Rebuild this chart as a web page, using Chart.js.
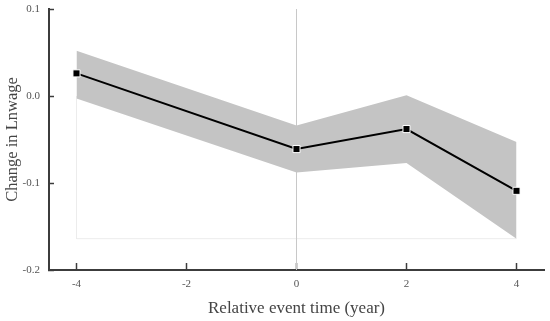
<!DOCTYPE html>
<html>
<head>
<meta charset="utf-8">
<script src="https://cdn.jsdelivr.net/npm/chart.js@4"></script>
<style>
  html, body { margin: 0; padding: 0; background: #fff; }
  #wrap { width: 550px; height: 321px; position: relative; }
</style>
</head>
<body>
<div id="wrap"><canvas id="eventChart"></canvas></div>
<script>
// event-study estimates
const years = [-4, 0, 2, 4];
const estimate = [0.026, -0.061, -0.038, -0.109];
const ciUpper = [0.052, -0.034, 0.001, -0.053];
const ciLower = [-0.003, -0.088, -0.077, -0.164];

const xTicks = [-4, -2, 0, 2, 4];
const yTicks = [-0.2, -0.1, 0.0, 0.1];

// faint frame left in the original figure, and the event line at 0
const frameX = [-4, -4, 4];
const frameY = [0, -0.164, -0.164];
const refX = [0, 0];
const refY = [-0.2, 0.1];

const pts = (xs, ys) => xs.map((x, i) => ({ x: x, y: ys[i] }));

const serif = 'Liberation Serif, Times New Roman, serif';
const axisColor = '#3c3c3c';

new Chart(document.getElementById('eventChart'), {
  type: 'line',
  data: {
    datasets: [
      {
        label: 'Estimate',
        data: pts(years, estimate),
        borderColor: '#000',
        borderWidth: 2,
        pointStyle: 'rect',
        pointRadius: 5,
        pointBackgroundColor: '#000',
        pointBorderColor: '#fff',
        pointBorderWidth: 1,
        fill: false,
        order: 0,
      },
      {
        label: 'Upper',
        data: pts(years, ciUpper),
        borderWidth: 0,
        borderColor: 'rgba(0,0,0,0)',
        pointRadius: 0,
        fill: false,
        order: 1,
      },
      {
        label: 'Lower',
        data: pts(years, ciLower),
        borderWidth: 0,
        borderColor: 'rgba(0,0,0,0)',
        backgroundColor: '#c4c4c4',
        pointRadius: 0,
        fill: '-1',
        order: 2,
      },
      {
        label: 'Event',
        data: pts(refX, refY),
        borderColor: '#c8c8c8',
        borderWidth: 1,
        pointRadius: 0,
        fill: false,
        order: 3,
      },
      {
        label: 'Frame',
        data: pts(frameX, frameY),
        borderColor: '#ececec',
        borderWidth: 1,
        pointRadius: 0,
        fill: false,
        order: 4,
      },
    ]
  },
  options: {
    responsive: true,
    maintainAspectRatio: false,
    animation: false,
    layout: { padding: { top: 0, right: 5, left: 0, bottom: 0 } },
    plugins: {
      legend: { display: false },
      tooltip: { enabled: false },
    },
    scales: {
      x: {
        type: 'linear',
        min: -4.5,
        max: 4.5,
        afterBuildTicks: (scale) => { scale.ticks = xTicks.map(v => ({ value: v })); },
        afterFit: (scale) => { scale.height = 51; },
        grid: { drawOnChartArea: false, drawTicks: true, tickLength: -7, color: axisColor, tickWidth: 1.5 },
        border: { color: axisColor, width: 2 },
        ticks: {
          padding: 15,
          color: '#555',
          font: { family: serif, size: 11 },
          callback: (v) => String(v),
        },
        title: {
          display: true,
          text: 'Relative event time (year)',
          color: '#444',
          font: { family: serif, size: 17 },
          padding: { top: 0, bottom: 2 },
        }
      },
      y: {
        type: 'linear',
        min: -0.2,
        max: 0.1,
        afterBuildTicks: (scale) => { scale.ticks = yTicks.map(v => ({ value: v })); },
        afterFit: (scale) => {
          scale.width = 49;
          // the inward ticks need a big label padding; keep it out of the plot margins
          scale.paddingTop = 9;
          scale.paddingBottom = 0;
        },
        grid: { drawOnChartArea: false, drawTicks: true, tickLength: -5, color: axisColor, tickWidth: 1.5 },
        border: { color: axisColor, width: 2 },
        ticks: {
          padding: 14,
          color: '#555',
          font: { family: serif, size: 11 },
          callback: (v) => Number(v).toFixed(1),
        },
        title: {
          display: true,
          text: 'Change in Lnwage',
          color: '#444',
          font: { family: serif, size: 16.5 },
          padding: { top: 3, bottom: 0 },
        }
      }
    }
  }
});
</script>
</body>
</html>
